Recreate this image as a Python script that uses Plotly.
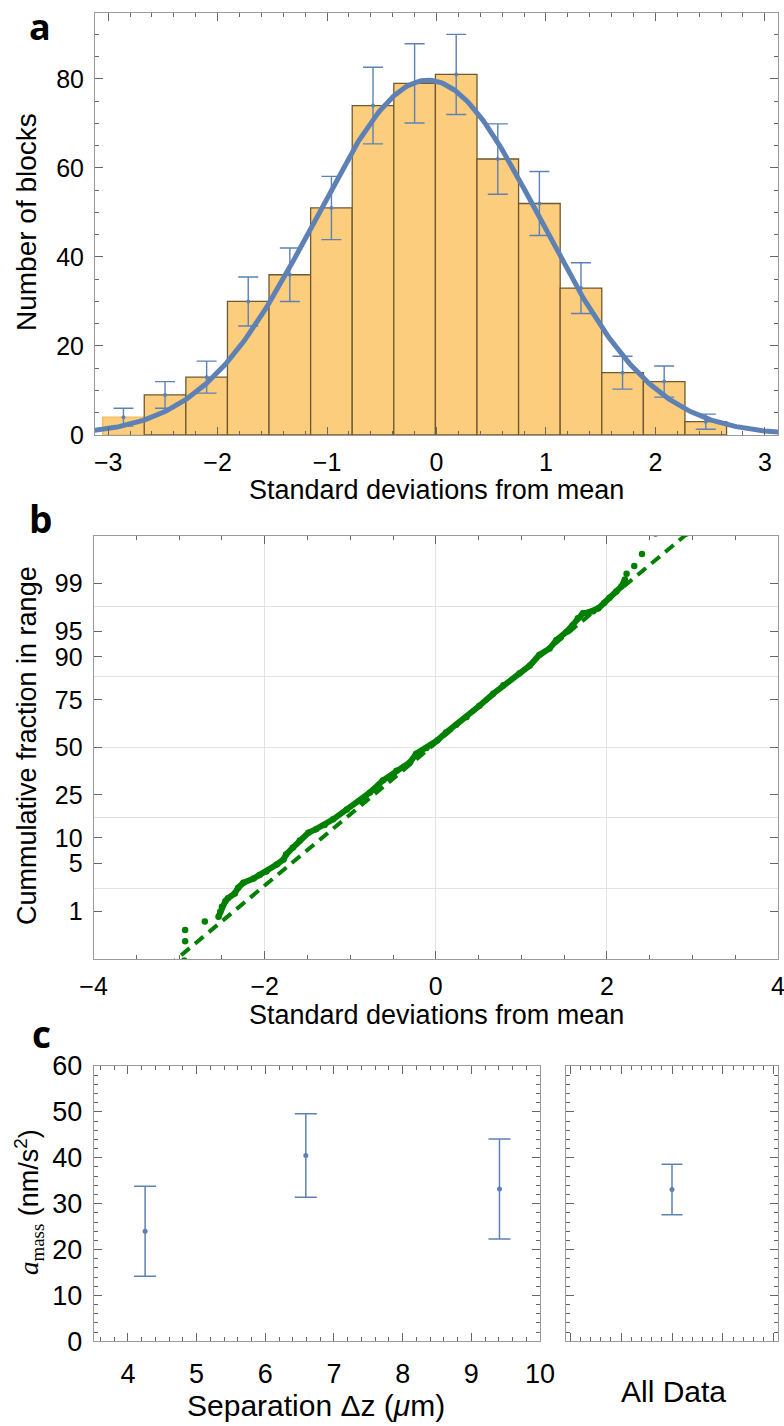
import math
from statistics import NormalDist
import plotly.graph_objects as go

W, H = 784, 1426

# ---------------- Panel a: histogram of block results ----------------
bin_centers = [-2.86, -2.48, -2.10, -1.72, -1.34, -0.96, -0.58, -0.20,
               0.18, 0.56, 0.94, 1.32, 1.70, 2.08, 2.46]
bin_width = 0.38
block_counts = [4, 9, 13, 30, 36, 51, 74, 79, 81, 62, 52, 33, 14, 12, 3]
count_errors = [2.0, 3.0, 3.6, 5.5, 6.0, 7.1, 8.6, 8.9, 9.0, 7.9, 7.2, 5.7, 3.7, 3.5, 1.7]
# fitted Gaussian parameters
gauss_amp = 79.7
gauss_mean = -0.08
gauss_sigma = 1.03

# ---------------- Panel b: normal probability plot ----------------
qq_x = [-2.94, -2.93, -2.93, -2.70,
        -2.54, -2.52, -2.50, -2.46, -2.43, -2.35, -2.31, -2.25, -2.13, -2.06,
        -1.98, -1.86, -1.78, -1.75, -1.67, -1.59, -1.49, -1.40, -1.30, -1.20,
        -1.04, -0.89, -0.77, -0.62, -0.46, -0.30, -0.23, -0.11, 0.02, 0.12,
        0.24, 0.36, 0.51, 0.67, 0.79, 0.98, 1.10, 1.21, 1.33, 1.41, 1.53,
        1.60, 1.66, 1.72, 1.78, 1.84, 1.90, 1.97, 2.03, 2.11, 2.17,
        2.21, 2.23, 2.32, 2.41, 2.57, 2.93]
qq_z = [-3.02, -2.75, -2.59, -2.47,
        -2.40, -2.33, -2.26, -2.18, -2.14, -2.07, -1.99, -1.92, -1.86, -1.81,
        -1.76, -1.66, -1.59, -1.52, -1.42, -1.32, -1.21, -1.16, -1.10, -1.02,
        -0.88, -0.76, -0.64, -0.47, -0.33, -0.21, -0.09, -0.01, 0.10, 0.21,
        0.32, 0.43, 0.59, 0.76, 0.88, 1.05, 1.16, 1.31, 1.40, 1.52, 1.64,
        1.73, 1.83, 1.90, 1.91, 1.93, 1.97, 2.05, 2.12, 2.21, 2.28,
        2.38, 2.46, 2.57, 2.74, 3.03, 3.03]
dense_start, dense_end = 4, 55   # index range of the densely packed points
fit_mu, fit_sigma = -0.06, 0.99
fit_line_x = [-3.3, 3.2]
pct_ticks = [1, 5, 10, 25, 50, 75, 90, 95, 99]

# ---------------- Panel c: a_mass vs separation ----------------
separation = [4.25, 6.59, 9.41]
a_mass = [24.0, 40.5, 33.2]
a_mass_err = [9.8, 9.1, 10.9]
all_data_val = [33.1]
all_data_err = [5.5]

BLUE = "#5E81B5"
GREEN = "#008000"
FRAME = "#9a9a9a"
TICKC = "#666666"
FONT = "Liberation Sans"

fig = go.Figure()

# --- a ---
edge_cols = ["#F7B85A"] + ["#6E5A32"] * (len(bin_centers) - 1)
fig.add_trace(go.Bar(x=bin_centers, y=block_counts, width=bin_width,
                     marker=dict(color="#FCCD7D", line=dict(color=edge_cols, width=1.3)),
                     xaxis="x", yaxis="y", showlegend=False))
fig.add_trace(go.Scatter(x=bin_centers, y=block_counts, mode="markers",
                         marker=dict(size=4, color=BLUE),
                         error_y=dict(type="data", array=count_errors, color=BLUE,
                                      thickness=1.4, width=10),
                         xaxis="x", yaxis="y", showlegend=False))
gx = [-3.2 + i * 0.02 for i in range(321)]
gy = [gauss_amp * math.exp(-((v - gauss_mean) ** 2) / (2 * gauss_sigma ** 2)) for v in gx]
fig.add_trace(go.Scatter(x=gx, y=gy, mode="lines", line=dict(color=BLUE, width=5),
                         xaxis="x", yaxis="y", showlegend=False))

# --- b ---
fig.add_trace(go.Scatter(x=fit_line_x,
                         y=[(v - fit_mu) / fit_sigma for v in fit_line_x],
                         mode="lines", line=dict(color=GREEN, width=4, dash="11px,7px"),
                         xaxis="x2", yaxis="y2", showlegend=False))
fig.add_trace(go.Scatter(x=qq_x[dense_start:dense_end + 1], y=qq_z[dense_start:dense_end + 1],
                         mode="lines", line=dict(color=GREEN, width=6),
                         xaxis="x2", yaxis="y2", showlegend=False))
fig.add_trace(go.Scatter(x=qq_x, y=qq_z, mode="markers",
                         marker=dict(size=6.5, color=GREEN),
                         xaxis="x2", yaxis="y2", showlegend=False))

# --- c ---
fig.add_trace(go.Scatter(x=separation, y=a_mass, mode="markers",
                         marker=dict(size=5, color=BLUE),
                         error_y=dict(type="data", array=a_mass_err, color=BLUE,
                                      thickness=1.5, width=11),
                         xaxis="x3", yaxis="y3", showlegend=False))
fig.add_trace(go.Scatter(x=[0], y=all_data_val, mode="markers",
                         marker=dict(size=5, color=BLUE),
                         error_y=dict(type="data", array=all_data_err, color=BLUE,
                                      thickness=1.5, width=10.5),
                         xaxis="x4", yaxis="y4", showlegend=False))


def px_x(p):
    return p / W


def px_y(p):
    return 1 - p / H


def frame_axis(**kw):
    base = dict(showline=True, linecolor=FRAME, linewidth=1, mirror="ticks",
                ticks="inside", tickcolor=TICKC, ticklen=8, tickwidth=1,
                showgrid=False, zeroline=False, automargin=False,
                ticklabeloverflow="allow",
                tickfont=dict(family=FONT, size=25, color="black"))
    base.update(kw)
    return base


def minor_small(d, **kw):
    m = dict(dtick=d, ticks="inside", ticklen=4, tickcolor=TICKC, showgrid=False)
    m.update(kw)
    return m


pct_vals = [NormalDist().inv_cdf(p / 100) for p in pct_ticks]
CFONT = dict(family=FONT, size=27, color="black")

fig.update_layout(
    width=W, height=H, margin=dict(l=0, r=0, t=0, b=0),
    paper_bgcolor="white", plot_bgcolor="white", barmode="overlay",
    xaxis=frame_axis(domain=[px_x(95), px_x(778)], range=[-3.12, 3.12], dtick=1,
                     tick0=0, minor=minor_small(0.2), anchor="y", ticklabelstandoff=5),
    yaxis=frame_axis(domain=[px_y(435), px_y(13)], range=[0, 94.8], dtick=20,
                     minor=minor_small(5), anchor="x", ticklabelstandoff=5),
    xaxis2=frame_axis(domain=[px_x(93.6), px_x(778)], range=[-4, 4], dtick=2,
                      showgrid=True, gridcolor="#e3e3e3", gridwidth=1,
                      minor=minor_small(0.5), anchor="y2", ticklabelstandoff=5),
    yaxis2=frame_axis(domain=[px_y(959), px_y(535.7)], range=[-3, 3],
                      tickmode="array", tickvals=pct_vals,
                      ticktext=[str(p) for p in pct_ticks],
                      minor=dict(tickmode="array", tickvals=[-2, -1, 0, 1, 2],
                                 showgrid=True, gridcolor="#e3e3e3", gridwidth=1, ticks=""),
                      anchor="x2", ticklabelstandoff=5),
    xaxis3=frame_axis(domain=[px_x(93.6), px_x(540)], range=[3.5, 10], dtick=1,
                      minor=minor_small(0.2), anchor="y3", ticklabelstandoff=8,
                      tickfont=CFONT),
    yaxis3=frame_axis(domain=[px_y(1341.3), px_y(1066)], range=[0, 60], dtick=10,
                      minor=minor_small(2), anchor="x3", ticklabelstandoff=5,
                      tickfont=CFONT),
    xaxis4=frame_axis(domain=[px_x(566), px_x(778)], range=[-2.08, 2.08], dtick=1,
                      showticklabels=False, minor=minor_small(0.2), anchor="y4"),
    yaxis4=frame_axis(domain=[px_y(1341.3), px_y(1066)], range=[0, 60], dtick=10,
                      showticklabels=False, minor=minor_small(2), anchor="x4"),
)

ann = []


def add_text(text, cx, cy, size, angle=0, bold=False, family=FONT, yanchor="middle"):
    ann.append(dict(text=("<b>%s</b>" % text) if bold else text,
                    x=px_x(cx), y=px_y(cy), xref="paper", yref="paper",
                    xanchor="center", yanchor=yanchor, showarrow=False,
                    textangle=angle, font=dict(family=family, size=size, color="black")))


add_text("a", 40, 0, 36, bold=True, family="Open Sans", yanchor="top")
add_text("b", 40, 518, 37, bold=True, family="Open Sans")
add_text("c", 41, 1033, 37, bold=True, family="Open Sans")
add_text("Number of blocks", 27, 222, 28, angle=-90)
add_text("Standard deviations from mean", 436, 490, 27)
add_text("Cummulative fraction in range", 27, 746, 27, angle=-90)
add_text("Standard deviations from mean", 436, 1015, 27)
add_text('<span style="font-family:Liberation Serif"><i>a</i></span>'
         '<sub><span style="font-family:Liberation Serif">mass</span></sub>'
         ' (nm/s<sup>2</sup>)', 29, 1202, 27, angle=-90)
add_text("Separation \u0394z (<i>\u03bc</i>m)", 316, 1405, 30)
add_text("All Data", 673, 1391, 30)

fig.update_layout(annotations=ann)
fig.write_html("out.html", config={"displayModeBar": False},
               post_script="document.body.style.margin='0px';"
                           "document.body.style.overflow='hidden';")
